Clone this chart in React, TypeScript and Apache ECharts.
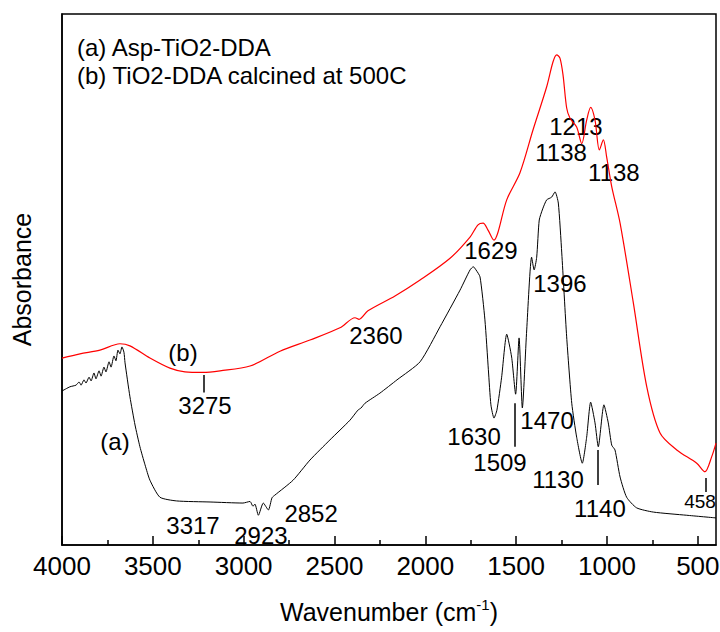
import React, { useEffect, useRef } from "react";
import * as echarts from "echarts";

// Spectrum (b): TiO2-DDA calcined at 500C  [wavenumber, absorbance]
const curveB: number[][] = [
  [4000, 35.2], [3901, 36.0], [3791, 36.7], [3681, 37.9], [3626, 37.5], [3516, 35.2],
  [3406, 33.3], [3323, 32.6], [3224, 32.5], [3130, 32.8], [2965, 33.7], [2800, 36.5],
  [2635, 38.6], [2470, 40.9], [2387, 42.8], [2365, 42.5], [2316, 44.1], [2167, 46.9],
  [2029, 49.9], [1864, 54.0], [1754, 58.0], [1710, 60.3], [1682, 60.6], [1655, 59.3],
  [1622, 57.4], [1600, 58.9], [1552, 65.0], [1479, 70.1], [1407, 78.2], [1332, 86.3],
  [1297, 91.0], [1277, 92.3], [1259, 91.7], [1242, 88.5], [1222, 82.3], [1204, 80.4],
  [1167, 78.7], [1139, 75.6], [1112, 80.0], [1090, 82.4], [1066, 80.0], [1042, 74.4],
  [1020, 76.3], [1002, 73.1], [974, 67.5], [928, 60.6], [855, 45.6], [781, 29.8],
  [708, 21.1], [616, 17.9], [506, 15.4], [461, 13.8], [424, 16.6], [400, 19.2],
];

// Spectrum (a): Asp-TiO2-DDA
const curveA: number[][] = [
  [4000, 29.0], [3956, 29.8], [3923, 30.1], [3906, 30.7], [3895, 30.1], [3879, 31.1],
  [3868, 30.5], [3851, 31.6], [3840, 30.9], [3824, 32.4], [3813, 31.3], [3796, 32.8],
  [3785, 31.8], [3769, 33.5], [3758, 32.6], [3741, 34.5], [3730, 33.5], [3714, 35.6],
  [3703, 34.7], [3692, 36.7], [3681, 36.0], [3670, 37.3], [3659, 36.3], [3653, 34.3],
  [3626, 27.9], [3598, 22.6], [3571, 18.5], [3543, 15.1], [3516, 12.2], [3461, 9.0],
  [3369, 8.3], [3185, 8.1], [3004, 7.9], [2965, 8.2], [2949, 7.3], [2938, 7.7],
  [2919, 5.6], [2892, 7.9], [2864, 6.6], [2844, 8.9], [2828, 9.4], [2728, 12.2],
  [2635, 16.0], [2525, 19.8], [2415, 23.5], [2371, 25.4], [2354, 25.8], [2332, 26.7],
  [2250, 28.6], [2156, 31.1], [2029, 34.5], [1919, 41.1], [1809, 48.0], [1754, 51.8],
  [1736, 52.4], [1721, 51.8], [1699, 50.5], [1672, 42.4], [1653, 33.0], [1639, 26.4],
  [1622, 23.9], [1606, 25.4], [1580, 31.6], [1552, 39.7], [1525, 35.4], [1503, 28.4],
  [1484, 39.0], [1466, 25.8], [1442, 40.5], [1415, 54.2], [1401, 51.8], [1387, 54.2],
  [1373, 61.2], [1354, 63.3], [1332, 65.0], [1305, 65.5], [1286, 66.5], [1268, 64.4],
  [1249, 55.0], [1222, 39.2], [1194, 26.7], [1167, 20.3], [1136, 15.4], [1112, 20.3],
  [1090, 26.9], [1066, 23.0], [1048, 18.5], [1017, 26.4], [993, 23.0], [974, 18.8],
  [956, 17.9], [928, 12.8], [892, 9.0], [837, 7.0], [745, 6.2], [561, 5.6], [400, 5.1],
];

// Peak annotations: [wavenumber, absorbance, text]
const peakLabels: [number, number, string][] = [
  [3213, 26.2, "3275"], [3334, 36.3, "(b)"], [3708, 19.4, "(a)"],
  [3279, 3.6, "3317"], [2905, 1.7, "2923"], [2629, 6.0, "2852"],
  [2272, 39.4, "2360"], [1639, 55.4, "1629"], [1259, 49.2, "1396"],
  [1732, 20.5, "1630"], [1589, 15.6, "1509"], [1330, 23.5, "1470"],
  [1270, 12.4, "1130"], [1039, 6.8, "1140"], [1171, 78.9, "1213"],
  [1253, 74.0, "1138"], [962, 70.2, "1138"],
];
const smallLabels: [number, number, string][] = [[488, 8.1, "458"]];

// Marker strokes: [wavenumber, fromAbs, toAbs]
const markers: number[][] = [
  [3222, 32.0, 28.7], [1506, 26.7, 18.5], [1051, 17.9, 11.3], [457, 12.6, 10.0],
];

const majorTicks = [500, 1000, 1500, 2000, 2500, 3000, 3500, 4000];
const minorTicks = [750, 1250, 1750, 2250, 2750, 3250, 3750];

const legendLines = ["(a) Asp-TiO2-DDA", "(b) TiO2-DDA calcined at 500C"];

const FONT = "'Liberation Sans', Arial, sans-serif";

export default function App() {
  const ref = useRef<HTMLDivElement>(null);
  useEffect(() => {
    document.body.style.margin = "0";
    const chart = echarts.init(ref.current!, null, { renderer: "svg" });
    const xBase = { type: "value", min: 400, max: 4000, inverse: true, gridIndex: 0 };
    const labelStyle = (size: number) => ({
      show: true,
      position: "inside",
      formatter: (p: any) => p.name,
      fontSize: size,
      color: "#000",
      opacity: 1,
      textBorderWidth: 0,
      fontFamily: FONT,
    });
    chart.setOption({
      animation: false,
      backgroundColor: "#fff",
      textStyle: { fontFamily: FONT },
      grid: {
        left: 62, right: 4, top: 14, bottom: 87,
        containLabel: false, outerBoundsMode: "none",
        show: true, borderColor: "#000", borderWidth: 1.5,
      },
      xAxis: [
        {
          ...xBase,
          position: "bottom",
          axisLine: { show: true, lineStyle: { color: "#000", width: 1.5 } },
          axisTick: { inside: true, length: 9, customValues: majorTicks, lineStyle: { color: "#000", width: 1.5 } },
          axisLabel: {
            customValues: majorTicks, margin: 8, color: "#000", fontSize: 26, fontFamily: FONT,
            formatter: (v: number) => String(v),
          },
          splitLine: { show: false },
          name: "{a|Wavenumber (cm}{s|-1}{a|)}",
          nameLocation: "middle",
          nameGap: 52,
          nameTextStyle: {
            rich: {
              a: { fontSize: 25, color: "#000", fontFamily: FONT, lineHeight: 30 },
              s: { fontSize: 15, color: "#000", fontFamily: FONT, verticalAlign: "top", lineHeight: 30, padding: [0, 0, 12, 0] },
            },
          },
        },
        {
          ...xBase,
          position: "bottom",
          axisLine: { show: false },
          axisTick: { show: true, inside: true, length: 5, customValues: minorTicks, lineStyle: { color: "#000", width: 1.5 } },
          axisLabel: { show: true, customValues: minorTicks, formatter: () => "" },
          splitLine: { show: false },
        },
      ],
      yAxis: {
        type: "value",
        min: 0,
        max: 100,
        axisLine: { show: true, lineStyle: { color: "#000", width: 1.5 } },
        axisTick: { show: false },
        axisLabel: { show: false },
        splitLine: { show: false },
        name: "Absorbance",
        nameLocation: "middle",
        nameGap: 28,
        nameTextStyle: { fontSize: 25, color: "#000", fontFamily: FONT },
      },
      graphic: legendLines.map((t, i) => ({
        type: "text",
        left: 77,
        top: 35 + i * 28,
        style: { text: t, fontSize: 24, fill: "#000", fontFamily: FONT },
      })),
      series: [
        {
          type: "line",
          name: "b",
          data: curveB,
          smooth: 0.3,
          showSymbol: false,
          lineStyle: { color: "#ff0000", width: 1.2 },
        },
        {
          type: "line",
          name: "a",
          data: curveA,
          smooth: 0.2,
          showSymbol: false,
          lineStyle: { color: "#000", width: 1 },
        },
        {
          type: "scatter",
          symbolSize: 0,
          itemStyle: { opacity: 1 },
          data: peakLabels.map((p) => ({ value: [p[0], p[1]], name: p[2] })),
          label: labelStyle(24),
          markLine: {
            silent: true,
            symbol: "none",
            label: { show: false },
            lineStyle: { color: "#000", width: 1.5, type: "solid", opacity: 1 },
            data: markers.map((m) => [{ coord: [m[0], m[1]] }, { coord: [m[0], m[2]] }]),
          },
        },
        {
          type: "scatter",
          symbolSize: 0,
          itemStyle: { opacity: 1 },
          data: smallLabels.map((p) => ({ value: [p[0], p[1]], name: p[2] })),
          label: labelStyle(19),
        },
      ],
    });
    return () => chart.dispose();
  }, []);
  return <div ref={ref} style={{ width: 720, height: 632 }} />;
}
